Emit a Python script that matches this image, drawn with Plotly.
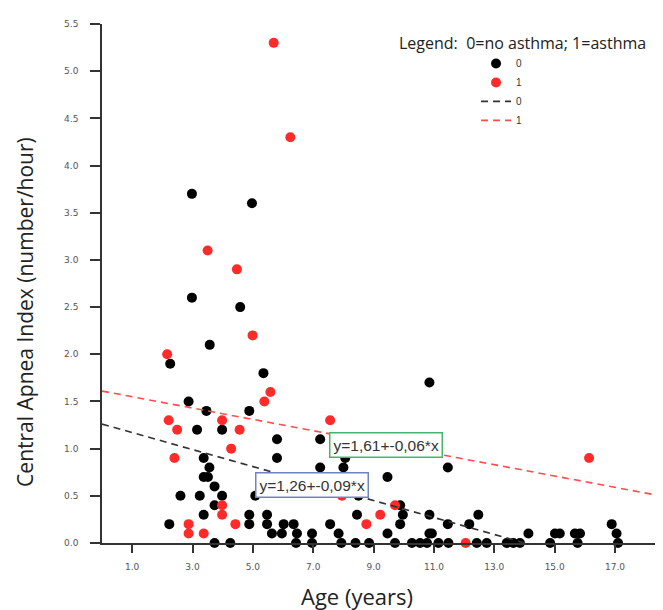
import plotly.graph_objects as go

# ---- data ----
age_no_asthma = [2.98, 4.97, 2.98, 4.58, 3.57, 2.26, 5.35, 10.85, 2.87, 3.46, 4.88,
                 3.15, 3.98, 5.80, 7.23, 3.37, 5.80, 8.06, 3.56, 7.23, 8.00, 11.46,
                 3.37, 3.51, 9.46, 3.73, 2.60, 3.24, 3.98, 5.08, 8.50, 3.73, 9.88,
                 3.37, 4.88, 5.47, 8.45, 9.97, 10.85, 12.47,
                 2.23, 4.88, 5.47, 6.02, 6.35, 7.56, 9.88, 11.46, 12.17, 16.89,
                 5.63, 5.96, 6.46, 6.96, 7.84, 9.46, 10.85, 10.93, 14.13, 15.01,
                 15.17, 15.67, 15.84, 17.05,
                 3.73, 4.25, 6.43, 6.96, 7.93, 8.40, 8.85, 9.71, 10.27, 10.54,
                 10.77, 11.15, 11.48, 12.42, 12.75, 13.41, 13.63, 13.85, 14.85,
                 15.76, 17.10]
cai_no_asthma = [3.7, 3.6, 2.6, 2.5, 2.1, 1.9, 1.8, 1.7, 1.5, 1.4, 1.4,
                 1.2, 1.2, 1.1, 1.1, 0.9, 0.9, 0.9, 0.8, 0.8, 0.8, 0.8,
                 0.7, 0.7, 0.7, 0.6, 0.5, 0.5, 0.5, 0.5, 0.5, 0.4, 0.4,
                 0.3, 0.3, 0.3, 0.3, 0.3, 0.3, 0.3,
                 0.2, 0.2, 0.2, 0.2, 0.2, 0.2, 0.2, 0.2, 0.2, 0.2,
                 0.1, 0.1, 0.1, 0.1, 0.1, 0.1, 0.1, 0.1, 0.1, 0.1,
                 0.1, 0.1, 0.1, 0.1,
                 0.0, 0.0, 0.0, 0.0, 0.0, 0.0, 0.0, 0.0, 0.0, 0.0,
                 0.0, 0.0, 0.0, 0.0, 0.0, 0.0, 0.0, 0.0, 0.0,
                 0.0, 0.0]

age_asthma = [5.69, 6.24, 3.50, 4.47, 4.99, 2.16, 5.58, 5.38, 2.21, 3.98, 7.56,
              2.49, 4.56, 4.28, 2.40, 16.14, 7.95, 3.98, 9.71, 3.98, 9.22,
              2.87, 4.42, 8.76, 2.87, 3.37, 12.05]
cai_asthma = [5.3, 4.3, 3.1, 2.9, 2.2, 2.0, 1.6, 1.5, 1.3, 1.3, 1.3,
              1.2, 1.2, 1.0, 0.9, 0.9, 0.5, 0.4, 0.4, 0.3, 0.3,
              0.2, 0.2, 0.2, 0.1, 0.1, 0.0]

fit_groups = ["0", "1"]
fit_intercepts = [1.26, 1.61]
fit_slopes = [-0.09, -0.06]
fit_labels = ["y=1,26+-0,09*x", "y=1,61+-0,06*x"]
fit_label_pos = [(6.97, 0.614), (9.42, 1.037)]

x_ticks = [1, 3, 5, 7, 9, 11, 13, 15, 17]
y_ticks = [0, 0.5, 1, 1.5, 2, 2.5, 3, 3.5, 4, 4.5, 5, 5.5]

X_RANGE = [0, 18.59]
Y_RANGE = [0, 5.5]

fig = go.Figure()

fig.add_trace(go.Scatter(x=age_no_asthma, y=cai_no_asthma, mode="markers", name="0",
                         marker=dict(color="#000000", size=10, line=dict(width=0)),
                         cliponaxis=False))
fig.add_trace(go.Scatter(x=age_asthma, y=cai_asthma, mode="markers", name="1",
                         marker=dict(color="#ff2b2b", size=10, line=dict(width=0)),
                         cliponaxis=False))

line_colors = ["#333333", "#ff4d4d"]
for g, b0, b1, col in zip(fit_groups, fit_intercepts, fit_slopes, line_colors):
    xs = [X_RANGE[0], X_RANGE[1]]
    ys = [b0 + b1 * v for v in xs]
    fig.add_trace(go.Scatter(x=xs, y=ys, mode="lines", name=g,
                             line=dict(color=col, width=1.6, dash="7px,5px")))

box_colors = ["#6f82c4", "#46b46e"]
for lab, (ax, ay), bc in zip(fit_labels, fit_label_pos, box_colors):
    fig.add_annotation(x=ax, y=ay, xref="x", yref="y", text=lab, showarrow=False,
                       xanchor="center", yanchor="middle",
                       font=dict(family="Liberation Sans", size=15.5, color="#333333"),
                       bgcolor="white", bordercolor=bc, borderwidth=1.5, borderpad=3)

fig.add_annotation(x=0.7487, y=0.9634, xref="paper", yref="paper",
                   xanchor="center", yanchor="middle",
                   text="Legend:  0=no asthma; 1=asthma", showarrow=False,
                   font=dict(family="Open Sans", size=16, color="#222222"))

fig.add_annotation(x=0.4545, y=-0.103, xref="paper", yref="paper",
                   xanchor="center", yanchor="middle",
                   text="Age (years)", showarrow=False,
                   font=dict(family="Open Sans", size=22, color="#222222"))
fig.add_annotation(x=-0.137, y=0.4456, xref="paper", yref="paper",
                   xanchor="center", yanchor="middle",
                   text="Central Apnea Index (number/hour)", showarrow=False, textangle=-90,
                   font=dict(family="Open Sans", size=21, color="#222222"))

# the page body adds an 8px margin, so the figure is 8px smaller than the window
fig.update_layout(
    width=655, height=602,
    margin=dict(l=94, r=0, t=16, b=66.5),
    paper_bgcolor="white", plot_bgcolor="white",
    showlegend=True,
    legend=dict(x=0.6667, y=0.952, xanchor="left", yanchor="top",
                font=dict(family="Liberation Sans", size=10, color="#333333"),
                bgcolor="rgba(0,0,0,0)", itemwidth=30, tracegroupgap=0),
)
fig.update_xaxes(range=X_RANGE, tickvals=x_ticks, tickformat=".1f",
                 showgrid=False, zeroline=False, showline=True, linecolor="#333333",
                 linewidth=1.5, ticks="outside", ticklen=8, tickwidth=1.5,
                 tickcolor="#333333", ticklabelstandoff=6,
                 tickfont=dict(family="DejaVu Sans", size=9, color="#555555"))
fig.update_yaxes(range=Y_RANGE, tickvals=y_ticks, tickformat=".1f",
                 showgrid=False, zeroline=False, showline=True, linecolor="#333333",
                 linewidth=1.5, ticks="outside", ticklen=10, tickwidth=1.5,
                 tickcolor="#333333", ticklabelstandoff=10,
                 tickfont=dict(family="DejaVu Sans", size=9, color="#555555"))

fig.write_html("out.html")
